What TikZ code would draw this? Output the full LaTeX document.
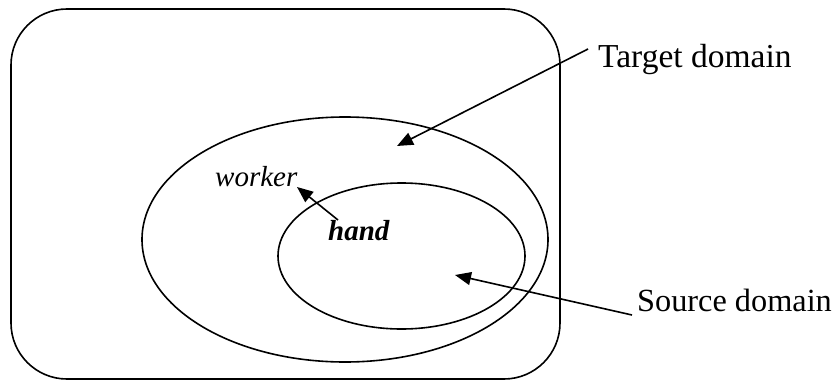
\documentclass[tikz,border=0pt]{standalone}
\usepackage{fontspec}
\setmainfont{Liberation Serif}
\usetikzlibrary{arrows.meta}
\begin{document}
\begin{tikzpicture}[x=1pt,y=-1pt,
  lw/.style={line width=1.6pt},
  arr/.style={lw,-{Triangle[length=16pt,width=13pt]}},
  lbl/.style={inner sep=0pt,anchor=base west,font=\fontsize{33.5}{40}\selectfont},
  word/.style={inner sep=0pt,anchor=base west,font=\fontsize{29}{34}\selectfont}]
\useasboundingbox (0,0) rectangle (835,380);
% frame
\draw[lw,rounded corners=56pt] (11,9) rectangle (560,379);
% ellipses
\draw[lw] (345,239.5) ellipse [x radius=203, y radius=122.5];
\draw[lw] (401.5,256) ellipse [x radius=123.5, y radius=73];
% labels
\node[lbl] (tgt) at (598,67) {Target domain};
\node[lbl,font=\fontsize{32.3}{39}\selectfont] (src) at (637,311) {Source domain};
\node[word] (wrk) at (215,186) {\itshape worker};
\node[word] (hnd) at (328,240) {\bfseries\itshape hand};
% arrow ends
\coordinate (t1) at (588,49);
\coordinate (t2) at (397,146);
\coordinate (s1) at (632,315);
\coordinate (s2) at (455,275);
\coordinate (h1) at (338,220);
\coordinate (h2) at (297,187);
\draw[arr] (t1) -- (t2);
\draw[arr] (s1) -- (s2);
\draw[arr] (h1) -- (h2);
\end{tikzpicture}
\end{document}
